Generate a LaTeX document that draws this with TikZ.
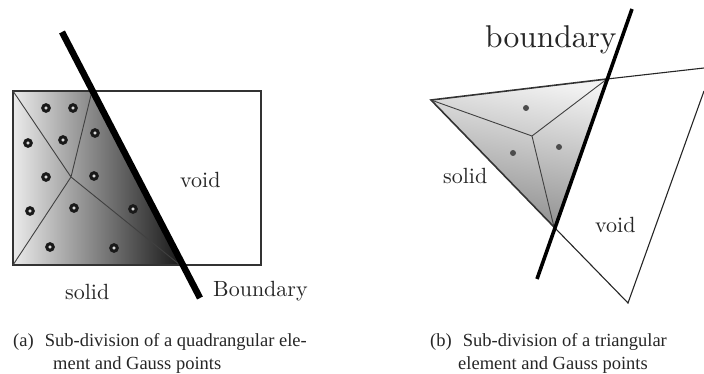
\documentclass[tikz,border=0pt]{standalone}
\usepackage{fontspec}
\newfontfamily\capfont{Liberation Serif}
\newfontfamily\labfont{lmroman10-regular.otf}
\begin{document}
\begin{tikzpicture}[x=1pt,y=-1pt,
  thinedge/.style={draw=black!85,line width=1.1pt},
  edgeline/.style={draw=black!80,line width=1.6pt},
  divide/.style={draw=black!75,line width=0.9pt},
  lab/.style={inner sep=0pt,anchor=base west,font=\labfont\fontsize{22}{24}\selectfont,text=black!85},
  captext/.style={inner sep=0pt,anchor=base west,font=\capfont\fontsize{18.5}{20}\selectfont,text=black!85},
  ring/.style={circle,draw=black!90,line width=3pt,fill=white!85!black,minimum size=6.5pt,inner sep=0pt},
  dotp/.style={circle,fill=black!70,minimum size=6pt,inner sep=0pt},
  bnd/.style={line width=6.5pt,black}]
\useasboundingbox (0,0) rectangle (704,374);
% --- left
\coordinate (q1) at (13,91);
\coordinate (q2) at (261,91);
\coordinate (q3) at (261,265);
\coordinate (q4) at (13,265);
\coordinate (qa) at (92,91);
\coordinate (qb) at (180,265);
\coordinate (qc) at (71,177);
\coordinate (bt) at (62,32);
\coordinate (bb) at (200,298);
\fill[left color=black!8,right color=black!90] (q1) -- (qa) -- (qb) -- (q4) -- cycle;
\draw[edgeline] (q1) rectangle (q3);
\draw[divide] (q1) -- (qc) (qa) -- (qc) (q4) -- (qc) (qb) -- (qc);
\draw[bnd] (bt) -- (bb);
\foreach \n/\x/\y in {a/46/108,b/73/108,c/28/143,d/63/140,e/95/133,f/46/177,g/94/176,h/30/211,i/74/208,j/133/209,k/50/247,l/114/248}
  \node[ring] (g\n) at (\x,\y) {};
\node[lab] (void1) at (180,188) {void};
\node[lab] (solid1) at (65,299) {solid};
\node[lab] (bound1) at (213,296) {Boundary};
\node[captext] (cap1a) at (13,346.5) {(a)\hspace{0.6em}Sub-division of a quadrangular ele-};
\node[captext] (cap1b) at (53,369) {ment and Gauss points};
% --- right
\coordinate (t1) at (431,100);
\coordinate (t2) at (607,79);
\coordinate (t3) at (554,227);
\coordinate (tc) at (532,136);
\coordinate (r1) at (704,68);
\coordinate (r2) at (704,91);
\coordinate (r3) at (628,303);
\coordinate (ct) at (632,9);
\coordinate (cb) at (537,279);
\fill[top color=black!5,bottom color=black!45,shading angle=-10] (t1) -- (t2) -- (t3) -- cycle;
\draw[edgeline,line join=miter] (t3) -- (t1) -- (t2);
\draw[thinedge] (t2) -- (r1) (t3) -- (r3) -- (r2);
\draw[divide] (t1) -- (tc) (t2) -- (tc) (t3) -- (tc);
\draw[line width=3.6pt,black] (ct) -- (cb);
\foreach \n/\x/\y in {a/526/108,b/513/153,c/559/147}
  \node[dotp] (d\n) at (\x,\y) {};
\node[lab,font=\labfont\fontsize{31.5}{33}\selectfont] (bound2) at (485,48) {boundary};
\node[lab] (solid2) at (443,184) {solid};
\node[lab] (void2) at (595,233) {void};
\node[captext] (cap2a) at (430,346.5) {(b)\hspace{0.6em}Sub-division of a triangular};
\node[captext] (cap2b) at (458,369) {element and Gauss points};
\end{tikzpicture}
\end{document}
